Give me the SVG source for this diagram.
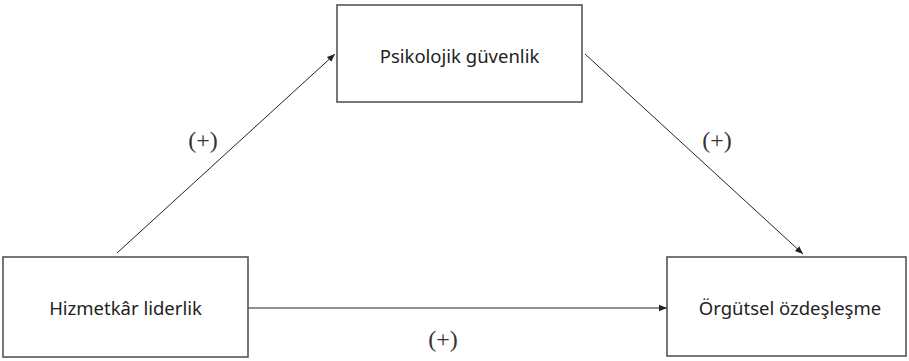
<svg xmlns="http://www.w3.org/2000/svg" width="909" height="361" viewBox="0 0 909 361">
<style>
.box{fill:#fff;stroke:#555;stroke-width:1.6}
.lbl{font-family:"Noto Sans","Open Sans",sans-serif;font-size:18.5px;fill:#222;text-anchor:middle}
.sign{font-family:"Liberation Serif",serif;font-size:24px;fill:#333;text-anchor:middle}
.conn{stroke:#222;stroke-width:1;fill:none;marker-end:url(#ah)}
</style>
<defs>
<marker id="ah" viewBox="0 0 10 10" refX="10" refY="5" markerWidth="8" markerHeight="8" markerUnits="userSpaceOnUse" orient="auto">
<path d="M0,1 L10,5 L0,9 z" fill="#222"/>
</marker>
</defs>
<rect width="909" height="361" fill="#fff"/>
<g id="connectors">
<line class="conn" x1="117" y1="253" x2="335" y2="54"/>
<line class="conn" x1="585" y1="54" x2="803" y2="254"/>
<line class="conn" x1="248" y1="308" x2="667" y2="308"/>
</g>
<g id="labels">
<text class="sign" x="203" y="148">(+)</text>
<text class="sign" x="717" y="148">(+)</text>
<text class="sign" x="443" y="347">(+)</text>
</g>
<g id="psikolojik">
<rect class="box" x="337" y="5" width="245" height="97"/>
<text class="lbl" x="459.5" y="63">Psikolojik güvenlik</text>
</g>
<g id="hizmetkar">
<rect class="box" x="3" y="257" width="245" height="100"/>
<text class="lbl" x="125.5" y="315">Hizmetkâr liderlik</text>
</g>
<g id="orgutsel">
<rect class="box" x="667" y="257" width="239" height="99"/>
<text class="lbl" x="790" y="315">Örgütsel özdeşleşme</text>
</g>
</svg>
